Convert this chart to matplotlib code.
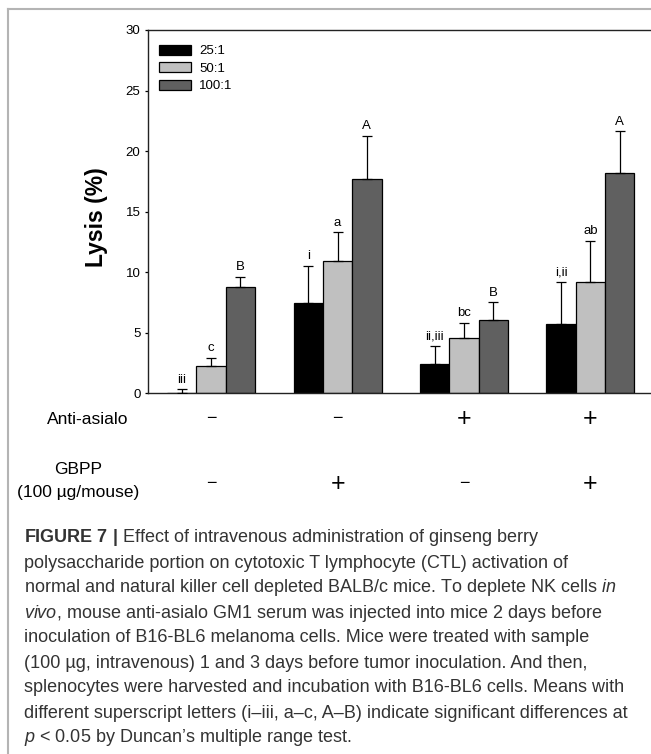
#-----------------------------------------------------------------------
#---- plot.py : Lysis (%) par groupe, ratio E:T 25:1 / 50:1 / 100:1
#-----------------------------------------------------------------------

import numpy as np
import matplotlib
matplotlib.use("Agg")
import matplotlib.pyplot as plt
from matplotlib import font_manager
from matplotlib.lines import Line2D
from matplotlib.transforms import blended_transform_factory


#---- Donnees
series = ["25:1", "50:1", "100:1"]
lysis_25 = [0.0, 7.43, 2.45, 5.70]
lysis_50 = [2.28, 10.93, 4.54, 9.17]
lysis_100 = [8.81, 17.67, 6.03, 18.17]
err_25 = [0.33, 3.11, 1.49, 3.49]
err_50 = [0.66, 2.39, 1.27, 3.44]
err_100 = [0.82, 3.61, 1.48, 3.46]
letters_25 = ["iii", "i", "ii,iii", "i,ii"]
letters_50 = ["c", "a", "bc", "ab"]
letters_100 = ["B", "A", "B", "A"]
anti_asialo = ["-", "-", "+", "+"]
gbpp = ["-", "+", "-", "+"]
yticks = [0, 5, 10, 15, 20, 25, 30]

caption_lines = [
    r"$\mathbf{FIGURE\ 7\ |}$ Effect of intravenous administration of ginseng berry",
    "polysaccharide portion on cytotoxic T lymphocyte (CTL) activation of",
    r"normal and natural killer cell depleted BALB/c mice. To deplete NK cells $\mathit{in}$",
    r"$\mathit{vivo}$, mouse anti-asialo GM1 serum was injected into mice 2 days before",
    "inoculation of B16-BL6 melanoma cells. Mice were treated with sample",
    "(100 µg, intravenous) 1 and 3 days before tumor inoculation. And then,",
    "splenocytes were harvested and incubation with B16-BL6 cells. Means with",
    "different superscript letters (i–iii, a–c, A–B) indicate significant differences at",
    r"$\mathit{p}$ < 0.05 by Duncan’s multiple range test.",
]
# fin de ligne (px) mesuree sur l'original, pour caler la taille de police
caption_ends = [540, 569, 615, 605, 593, 587, 629, 622, 355]


#---- Mise en page en pixels
W, H = 651, 754
def fx(px):
    return px / W
def fy(py):
    return 1 - py / H


#---- Polices
names = {f.name for f in font_manager.fontManager.ttflist}
cap_font = "Liberation Sans Narrow" if "Liberation Sans Narrow" in names else "Liberation Sans"
plt.rcParams["font.family"] = ["Liberation Sans", "DejaVu Sans"]
plt.rcParams["mathtext.fontset"] = "custom"
plt.rcParams["mathtext.rm"] = cap_font
plt.rcParams["mathtext.it"] = cap_font + ":italic"
plt.rcParams["mathtext.bf"] = cap_font + ":bold"


def main():

    fig = plt.figure(figsize=(W / 100, H / 100), dpi=100)

    #---- Cadre gris de la figure
    fig.add_artist(Line2D([fx(7.5), fx(7.5)], [fy(9), 0], color="#b4b4b4", lw=1.5,
                          transform=fig.transFigure))
    fig.add_artist(Line2D([fx(7.5), 1], [fy(9), fy(9)], color="#b4b4b4", lw=1.5,
                          transform=fig.transFigure))

    #---- Axes
    ax_l, ax_r, ax_t, ax_b = 147.7, 653.6, 30.0, 393.3
    ax = fig.add_axes([fx(ax_l), fy(ax_b), (ax_r - ax_l) / W, (ax_b - ax_t) / H])

    x = np.arange(len(lysis_25))
    w = 0.232
    colors = ["#000000", "#c0c0c0", "#606060"]
    values = [lysis_25, lysis_50, lysis_100]
    errors = [err_25, err_50, err_100]
    letters = [letters_25, letters_50, letters_100]

    for k in range(3):
        xs = x + (k - 1) * w
        ax.bar(xs, values[k], width=w, color=colors[k], edgecolor="black",
               linewidth=0.9, label=series[k], zorder=2)
        ax.errorbar(xs, values[k], yerr=[np.zeros(len(xs)), errors[k]], fmt="none",
                    ecolor="black", elinewidth=0.9, capsize=3.6, capthick=0.9, zorder=3)
        for xi, v, e, lab in zip(xs, values[k], errors[k], letters[k]):
            ax.annotate(lab, (xi, v + e), xytext=(0, 2.5), textcoords="offset points",
                        ha="center", va="bottom", fontsize=9.5)

    ax.set_xlim(-0.502, 3.5)
    ax.set_ylim(0, 30)
    ax.set_yticks(yticks)
    ax.set_xticks([])
    ax.tick_params(axis="y", direction="out", length=2.5, width=0.9, pad=2.7,
                   labelsize=9.5)
    for s in ax.spines.values():
        s.set_linewidth(1.0)
        s.set_color("#222222")

    fs = 9.5 * 100 / 72
    ax.legend(loc="upper left", bbox_to_anchor=(11.3 / (ax_r - ax_l), 1 - 15.0 / (ax_b - ax_t)),
              frameon=False, fontsize=9.5, handlelength=32 / fs, handleheight=10 / fs,
              handletextpad=8 / fs, labelspacing=0.38, borderpad=0, borderaxespad=0)

    #---- Label Y
    fig.text(fx(97), fy(217), "Lysis (%)", rotation=90, ha="center", va="center",
             fontsize=16.5, fontweight="bold")

    #---- Lignes de traitement sous l'axe
    trans = blended_transform_factory(ax.transData, fig.transFigure)
    signs = {"-": ("\u2212", 13), "+": ("+", 18)}
    for xi, s in zip(x, anti_asialo):
        ax.text(xi, fy(419), signs[s][0], transform=trans, ha="center", va="center",
                fontsize=signs[s][1])
    for xi, s in zip(x, gbpp):
        ax.text(xi, fy(484), signs[s][0], transform=trans, ha="center", va="center",
                fontsize=signs[s][1])
    fig.text(fx(87.5), fy(420), "Anti-asialo", ha="center", va="center", fontsize=12.5)
    fig.text(fx(78), fy(469), "GBPP", ha="center", va="center", fontsize=12.5)
    fig.text(fx(78), fy(492), "(100 µg/mouse)", ha="center", va="center", fontsize=12.5)

    #---- Legende (texte)
    texts = []
    for i, line in enumerate(caption_lines):
        t = fig.text(fx(24), fy(542.5 + 25.0 * i), line, ha="left", va="baseline",
                     fontsize=11, family=[cap_font, "DejaVu Sans"], color="#333333")
        texts.append(t)
    renderer = fig.canvas.get_renderer()
    measured = sum(t.get_window_extent(renderer).width for t in texts[:8])
    target = sum(e - 24 for e in caption_ends[:8])
    new_size = 11 * target / measured
    for t in texts:
        t.set_fontsize(new_size)

    fig.savefig("out.png", dpi=100)


#-----------------------------------------------------------------------
if __name__ == "__main__":
    main()
